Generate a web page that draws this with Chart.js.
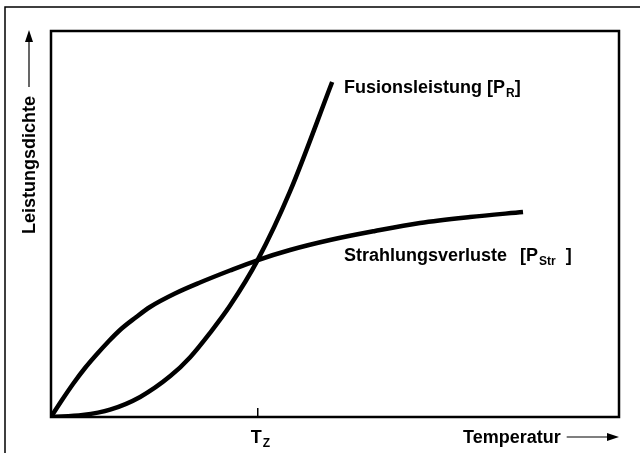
<!DOCTYPE html>
<html lang="de">
<head>
<meta charset="UTF-8">
<title>Leistungsdichte</title>
<style>
  html, body { margin: 0; padding: 0; background: #fff; }
  #wrap { width: 640px; height: 453px; }
</style>
</head>
<body>
<div id="wrap"><canvas id="chart" width="640" height="453"></canvas></div>
<script src="https://cdn.jsdelivr.net/npm/chart.js"></script>
<script>
// Temperatur und Leistungsdichte in relativen Einheiten (0..100)
const fusionT = [0, 5.6, 10.4, 15.7, 21.0, 24.5, 28.0, 31.5, 36.4, 42.1, 49.5];
const fusionP = [0, 0.5, 1.9, 5.2, 10.6, 15.5, 21.8, 28.8, 40.7, 58.5, 86.8];
const strahlT = [0, 1.94, 3.87, 5.99, 8.10, 10.04, 12.15, 14.79, 17.43, 21.83, 26.23,
                 31.51, 36.44, 42.08, 49.12, 57.04, 64.96, 73.77, 83.10];
const strahlP = [0, 4.40, 8.55, 12.69, 16.32, 19.43, 22.54, 25.65, 28.50, 31.99, 34.84,
                 37.95, 40.67, 43.26, 45.85, 48.19, 50.26, 51.81, 53.11];
const tZ = 36.4; // Zündtemperatur, Schnittpunkt der Kurven

const FONT = '"Liberation Sans", Arial, sans-serif';
const BIG = 'bold 18px ' + FONT;
const SMALL = 'bold 12px ' + FONT;

const toPoints = (xs, ys) => xs.map((x, i) => ({ x: x, y: ys[i] }));

// Text mit tiefgestelltem Index; gap = zusätzlicher Abstand vor der Klammer
function subText(ctx, x, y, main, sub, rest, gap) {
  ctx.font = BIG;
  ctx.fillText(main, x, y);
  x += ctx.measureText(main).width + (gap || 0);
  ctx.fillText('[P', x, y);
  x += ctx.measureText('[P').width;
  ctx.font = SMALL;
  ctx.fillText(sub, x + 1, y + 4);
  x += ctx.measureText(sub).width + 1;
  ctx.font = BIG;
  ctx.fillText(rest, x, y);
}

const rahmen = {
  id: 'rahmen',
  afterDraw(chart) {
    const { ctx, chartArea: a } = chart;
    const xs = chart.scales.x;
    ctx.save();
    ctx.strokeStyle = '#000';
    ctx.fillStyle = '#000';

    // äußerer Rahmen
    ctx.lineWidth = 1.5;
    ctx.beginPath();
    ctx.moveTo(5, 453); ctx.lineTo(5, 7); ctx.lineTo(640, 7);
    ctx.stroke();

    // Diagrammfeld
    ctx.lineWidth = 2.5;
    ctx.strokeRect(a.left, a.top, a.right - a.left, a.bottom - a.top);

    // Marke bei T_Z
    const xz = xs.getPixelForValue(tZ);
    ctx.lineWidth = 1.5;
    ctx.beginPath();
    ctx.moveTo(xz, a.bottom); ctx.lineTo(xz, a.bottom - 9);
    ctx.stroke();

    ctx.textBaseline = 'alphabetic';
    ctx.textAlign = 'left';
    ctx.font = BIG;
    ctx.fillText('T', xz - 7, 443);
    ctx.font = SMALL;
    ctx.fillText('Z', xz - 7 + 12, 447);

    // x-Achsentitel mit Pfeil
    ctx.font = BIG;
    ctx.fillText('Temperatur', 463, 443);
    const tw = ctx.measureText('Temperatur').width;
    ctx.lineWidth = 1.2;
    ctx.beginPath();
    ctx.moveTo(463 + tw + 6, 437); ctx.lineTo(a.right - 8, 437);
    ctx.stroke();
    ctx.beginPath();
    ctx.moveTo(a.right, 437); ctx.lineTo(a.right - 12, 433); ctx.lineTo(a.right - 12, 441);
    ctx.closePath(); ctx.fill();

    // y-Achsentitel mit Pfeil
    ctx.save();
    ctx.translate(30, 165);
    ctx.rotate(-Math.PI / 2);
    ctx.textAlign = 'center';
    ctx.textBaseline = 'middle';
    ctx.font = BIG;
    ctx.fillText('Leistungsdichte', 0, 0);
    ctx.restore();
    ctx.beginPath();
    ctx.moveTo(29, 87); ctx.lineTo(29, 38);
    ctx.stroke();
    ctx.beginPath();
    ctx.moveTo(29, 30); ctx.lineTo(25, 42); ctx.lineTo(33, 42);
    ctx.closePath(); ctx.fill();

    // Kurvenbeschriftungen
    ctx.textAlign = 'left';
    ctx.textBaseline = 'alphabetic';
    subText(ctx, 344, 93, 'Fusionsleistung ', 'R', ']', 0);
    subText(ctx, 344, 261, 'Strahlungsverluste ', 'Str', '  ]', 8);

    ctx.restore();
  }
};

const lineStyle = {
  borderColor: '#000',
  borderWidth: 4.5,
  pointRadius: 0,
  fill: false,
  cubicInterpolationMode: 'monotone',
  borderCapStyle: 'butt'
};

new Chart(document.getElementById('chart'), {
  type: 'line',
  data: {
    datasets: [
      Object.assign({ label: 'Fusionsleistung', data: toPoints(fusionT, fusionP) }, lineStyle),
      Object.assign({ label: 'Strahlungsverluste', data: toPoints(strahlT, strahlP) }, lineStyle)
    ]
  },
  options: {
    responsive: false,
    animation: false,
    layout: { padding: { left: 51, top: 31, right: 21, bottom: 36 } },
    plugins: { legend: { display: false }, tooltip: { enabled: false } },
    scales: {
      x: { type: 'linear', display: false, min: 0, max: 100 },
      y: { type: 'linear', display: false, min: 0, max: 100 }
    }
  },
  plugins: [rahmen]
});
</script>
</body>
</html>
